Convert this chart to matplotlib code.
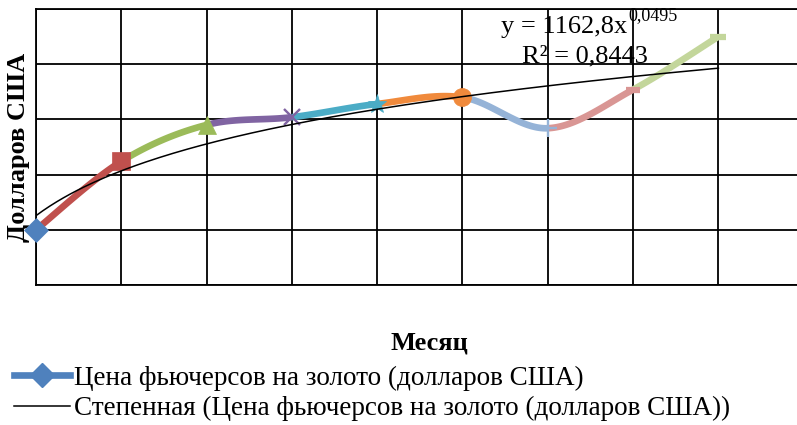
import numpy as np
import matplotlib
matplotlib.use('Agg')
import matplotlib.pyplot as plt
from matplotlib.lines import Line2D

plt.rcParams['font.family'] = ['Liberation Serif', 'DejaVu Serif']

# Цена фьючерсов на золото по месяцам
months = [1, 2, 3, 4, 5, 6, 7, 8, 9]
prices = [1150, 1212, 1245, 1252, 1264, 1270, 1242, 1277, 1325]

# степенной тренд
trend_a = 1162.8
trend_b = 0.0495
r2 = 0.8443

# цвета и маркеры точек (как "разноцветные точки" в Excel)
point_colors = ['#4F81BD', '#C0504D', '#9BBB59', '#8064A2', '#4BACC6',
                '#F08A3C', '#95B3D7', '#D99694', '#C3D69B']
point_markers = ['D', 's', '^', 'x', '*', 'o', '+', '_', '_']
point_sizes = [12, 13, 13, 12, 14, 13, 13, 10, 12]

series_label = 'Цена фьючерсов на золото (долларов США)'
trend_label = 'Степенная (Цена фьючерсов на золото (долларов США))'


def smooth_segment(p0, p1, p2, p3, n=40):
    # сглаживание как у Excel: Безье с контрольными точками по соседям
    c1 = p1 + (p2 - p0) / 6.0
    c2 = p2 - (p3 - p1) / 6.0
    t = np.linspace(0, 1, n)[:, None]
    return ((1 - t) ** 3) * p1 + 3 * ((1 - t) ** 2) * t * c1 + 3 * (1 - t) * t ** 2 * c2 + t ** 3 * p2


pts = np.column_stack([months, prices]).astype(float)

fig = plt.figure(figsize=(7.97, 4.25), dpi=100)
ax = fig.add_axes([36 / 797, 1 - 285 / 425, 761 / 797, 276 / 425])

for i in range(len(pts) - 1):
    p0 = pts[max(i - 1, 0)]
    p3 = pts[min(i + 2, len(pts) - 1)]
    seg = smooth_segment(p0, pts[i], pts[i + 1], p3)
    ax.plot(seg[:, 0], seg[:, 1], color=point_colors[i + 1], lw=4.8,
            solid_capstyle='butt', zorder=3)

for i, (x, y) in enumerate(pts):
    m = point_markers[i]
    thin = m in ('x', '+', '_')
    ax.plot(x, y, marker=m, ms=point_sizes[i], color=point_colors[i],
            mew=4.5 if m == '_' else (1.7 if thin else 0.5), zorder=4, clip_on=False)

xs = np.linspace(1, 9, 200)
ax.plot(xs, trend_a * xs ** trend_b, color='black', lw=1.1, zorder=5)

ax.set_xlim(1, 1 + 761 / 85.3)
ax.set_ylim(1100, 1350)
ax.set_xticks(np.arange(1, 10))
ax.set_yticks(np.arange(1100, 1351, 50))
ax.grid(True, color='black', lw=1.3)
ax.tick_params(length=0, labelbottom=False, labelleft=False)
for side in ('left', 'bottom', 'top'):
    ax.spines[side].set_linewidth(1.3)
ax.spines['right'].set_visible(False)

ax.set_xlabel('Месяц', fontsize=19, fontweight='bold')
ax.set_ylabel('Долларов США', fontsize=19, fontweight='bold')
ax.xaxis.set_label_coords((429 - 36) / 761, -(331 - 285) / 276)
ax.yaxis.set_label_coords(-(36 - 30) / 761, 0.5)

fig.text(627 / 797, 1 - 33 / 425, 'y = 1162,8x', fontsize=19, ha='right', va='baseline')
fig.text(628 / 797, 1 - 20 / 425, '0,0495', fontsize=13, ha='left', va='baseline')
fig.text(585 / 797, 1 - 62 / 425, 'R² = %s' % str(r2).replace('.', ','),
         fontsize=19, ha='center', va='baseline')

handles = [Line2D([], [], color=point_colors[0], lw=4.8, marker='D', ms=12),
           Line2D([], [], color='black', lw=1.1)]
fig.legend(handles, [series_label, trend_label], loc='upper left',
           bbox_to_anchor=(0, 1 - 352 / 425), frameon=False, fontsize=19.5,
           handlelength=2.1, handletextpad=0.12, labelspacing=0.2, borderpad=0)

fig.savefig('out.png', dpi=100)
